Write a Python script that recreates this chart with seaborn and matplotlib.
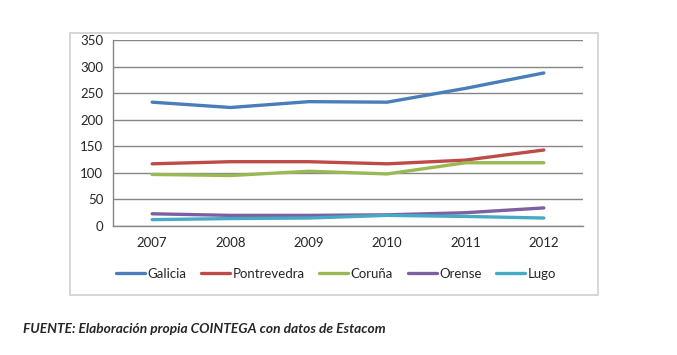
import pandas as pd
import matplotlib.pyplot as plt
import seaborn as sns
from matplotlib.patches import Rectangle

# data
years = [2007, 2008, 2009, 2010, 2011, 2012]
galicia = [233, 223, 234, 233, 259, 288]
pontrevedra = [117, 121, 121, 117, 124, 143]
coruna = [97, 95, 103, 98, 119, 119]
orense = [23, 20, 20, 21, 25, 34]
lugo = [12, 14, 15, 20, 18, 15]

regions = ["Galicia", "Pontrevedra", "Coruña", "Orense", "Lugo"]
colors = ["#4A7EBB", "#BE4B48", "#98B954", "#7D60A0", "#46AAC5"]

df = pd.DataFrame({
    "year": years * 5,
    "value": galicia + pontrevedra + coruna + orense + lugo,
    "region": [r for r in regions for _ in years],
})

sns.set_style("white")
plt.rcParams["font.family"] = ["Lato", "DejaVu Sans"]

W, H = 677, 355
fig = plt.figure(figsize=(W / 100, H / 100), dpi=100)
ax = fig.add_axes([113 / W, 1 - 226 / H, (583 - 113) / W, (226 - 40) / H])

# chart border
fig.patches.append(Rectangle((70 / W, 1 - 295 / H), (598 - 70) / W, (295 - 33) / H,
                             transform=fig.transFigure, fill=False,
                             edgecolor="#d0d0d0", linewidth=1.2))

sns.lineplot(data=df, x="year", y="value", hue="region", palette=colors,
             linewidth=2.4, ax=ax, legend=False)

ax.set_xlim(2006.5, 2012.5)
ax.set_ylim(0, 350)
ax.set_yticks(range(0, 351, 50))
ax.set_xticks(years)
ax.set_xticks([y - 0.5 for y in years] + [2012.5], minor=True)
ax.tick_params(axis="x", which="major", length=0, pad=8, labelsize=9.5)
ax.tick_params(axis="x", which="minor", length=5, color="#868686", width=1, direction="out")
ax.tick_params(axis="y", length=3, color="#868686", width=1, direction="out", pad=4, labelsize=9.5)
ax.grid(axis="y", color="#868686", linewidth=1)
ax.set_axisbelow(True)
for side in ["top", "right"]:
    ax.spines[side].set_visible(False)
for side in ["left", "bottom"]:
    ax.spines[side].set_color("#868686")
    ax.spines[side].set_linewidth(1)
ax.set_xlabel("")
ax.set_ylabel("")

handles = [plt.Line2D([], [], color=c, linewidth=2.4) for c in colors]
fig.legend(handles, regions, ncol=5, frameon=False, loc="center",
           bbox_to_anchor=(336 / W, 1 - 274 / H), fontsize=9.5,
           handlelength=2.2, handletextpad=0.2, columnspacing=1.1)

fig.text(23 / W, 1 - 329 / H, "FUENTE: Elaboración propia COINTEGA con datos de Estacom",
         fontsize=9.9, fontweight="bold", fontstyle="italic", va="center", ha="left")

fig.savefig("out.png", dpi=100)
